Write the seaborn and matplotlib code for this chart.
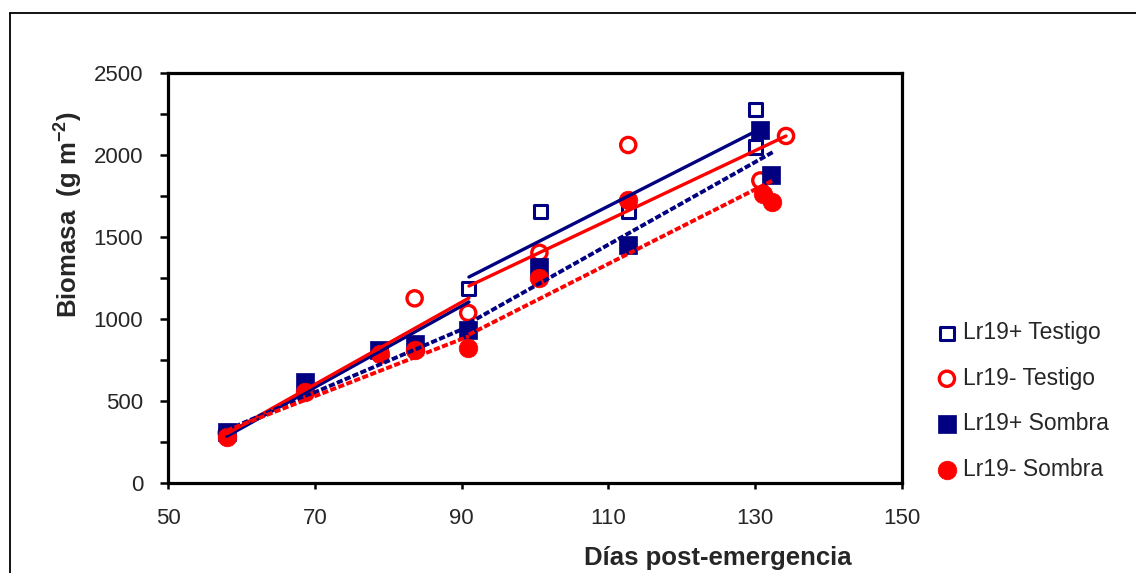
import matplotlib
matplotlib.use("Agg")
import matplotlib.pyplot as plt
import seaborn as sns
import numpy as np
import pandas as pd
from matplotlib.lines import Line2D

# ---------------- data ----------------
labels = ["Lr19+ Testigo", "Lr19- Testigo", "Lr19+ Sombra", "Lr19- Sombra"]

tp_x = [90.9, 100.7, 112.7, 130.0, 130.0]
tp_y = [1185, 1655, 1655, 2279, 2049]

tm_x = [58.0, 83.6, 90.9, 100.6, 112.7, 130.7, 134.2]
tm_y = [305, 1126, 1037, 1404, 2061, 1845, 2116]

sp_x = [58.0, 68.7, 78.8, 83.6, 90.9, 100.6, 112.7, 130.7, 132.2]
sp_y = [313, 615, 811, 845, 933, 1319, 1451, 2155, 1878]

sm_x = [58.0, 68.7, 78.9, 83.7, 90.9, 100.6, 112.7, 131.0, 132.3]
sm_y = [282, 555, 784, 809, 826, 1248, 1724, 1765, 1715]

# fitted trend-line end points (early phase / late phase)
tp_fit_early_x = [58, 91];    tp_fit_early_y = [285, 1104]
tp_fit_late_x = [91, 130.3];  tp_fit_late_y = [1256, 2150]
tm_fit_early_x = [58, 91];    tm_fit_early_y = [300, 1128]
tm_fit_late_x = [91, 134.2];  tm_fit_late_y = [1201, 2116]
sp_fit_early_x = [58, 91];    sp_fit_early_y = [323, 955]
sp_fit_late_x = [91, 132.5];  sp_fit_late_y = [975, 2020]
sm_fit_early_x = [58, 91];    sm_fit_early_y = [320, 895]
sm_fit_late_x = [91, 132.4];  sm_fit_late_y = [905, 1845]

x_ticks = [50, 70, 90, 110, 130, 150]
y_ticks = [0, 500, 1000, 1500, 2000, 2500]

# ---------------- style ----------------
sns.set_theme(style="white")
plt.rcParams["font.family"] = ["Liberation Sans", "DejaVu Sans"]
plt.rcParams["mathtext.fontset"] = "custom"
plt.rcParams["mathtext.bf"] = "Liberation Sans:bold"
plt.rcParams["mathtext.rm"] = "Liberation Sans:bold"
plt.rcParams["mathtext.default"] = "bf"

NAVY = "#000080"
RED = "#FF0000"

W, H = 1136, 573
fig = plt.figure(figsize=(W / 100, H / 100), dpi=100)
ax = fig.add_axes([168 / W, 1 - 483 / H, (902 - 168) / W, (483 - 73) / H])

# ---------------- points ----------------
sns.scatterplot(x=tp_x, y=tp_y, ax=ax, marker="s", s=90, color=NAVY,
                facecolor="none", edgecolor=NAVY, linewidth=2.2,
                label=labels[0], zorder=3)
sns.scatterplot(x=tm_x, y=tm_y, ax=ax, marker="o", s=120, color=RED,
                facecolor="none", edgecolor=RED, linewidth=2.4,
                label=labels[1], zorder=3)
sns.scatterplot(x=sp_x, y=sp_y, ax=ax, marker="s", s=160, color=NAVY,
                edgecolor=NAVY, linewidth=0.5, label=labels[2], zorder=3)
sns.scatterplot(x=sm_x, y=sm_y, ax=ax, marker="o", s=180, color=RED,
                edgecolor=RED, linewidth=0.5, label=labels[3], zorder=3)

# ---------------- trend lines ----------------
dash = (0, (1.6, 0.6))
fits = [
    (tp_fit_early_x, tp_fit_early_y, NAVY, "-", 2.4),
    (tp_fit_late_x, tp_fit_late_y, NAVY, "-", 2.4),
    (tm_fit_early_x, tm_fit_early_y, RED, "-", 2.4),
    (tm_fit_late_x, tm_fit_late_y, RED, "-", 2.4),
    (sp_fit_early_x, sp_fit_early_y, NAVY, dash, 2.8),
    (sp_fit_late_x, sp_fit_late_y, NAVY, dash, 2.8),
    (sm_fit_early_x, sm_fit_early_y, RED, dash, 2.8),
    (sm_fit_late_x, sm_fit_late_y, RED, dash, 2.8),
]
for fx, fy, c, ls, lw in fits:
    sns.lineplot(x=fx, y=fy, ax=ax, color=c, linewidth=lw, linestyle=ls,
                 zorder=4, legend=False)

# ---------------- axes ----------------
ax.set_xlim(50, 150)
ax.set_ylim(0, 2500)
ax.set_xticks(x_ticks)
ax.set_xticklabels([str(v) for v in x_ticks])
ax.set_yticks(y_ticks)
ax.set_yticklabels([str(v) for v in y_ticks])
ax.set_yticks(np.arange(250, 2500, 500), minor=True)
for sp in ax.spines.values():
    sp.set_visible(True)
    sp.set_color("black")
    sp.set_linewidth(2.3)
ax.tick_params(axis="y", which="both", direction="out", length=6, width=1.8,
               color="black", left=True, right=False, labelsize=16, pad=12)
ax.tick_params(axis="x", which="both", direction="out", length=4, width=1.8,
               color="black", bottom=True, top=False, labelsize=16, pad=14)
ax.grid(False)

ax.set_xlabel("Días post-emergencia", fontsize=18.5, fontweight="bold")
ax.set_ylabel("Biomasa  (g m$^{-2}$)", fontsize=18.5, fontweight="bold")
ax.xaxis.set_label_coords((718 - 168) / 734, (483 - 546) / 410)
ax.yaxis.set_label_coords((85 - 168) / 734, (483 - 215) / 410)

# ---------------- legend ----------------
handles, lbls = ax.get_legend_handles_labels()
if ax.legend_:
    ax.legend_.remove()
fig.legend(handles[:4], lbls[:4], loc="center left",
           bbox_to_anchor=(924 / W, 1 - 401 / H), frameon=False,
           fontsize=16.5, handlelength=1.0, handletextpad=0.2,
           labelspacing=0.98, borderpad=0, scatterpoints=1)

# ---------------- outer frame ----------------
fig.add_artist(Line2D([10 / W, 10 / W], [0, 1 - 13 / H], transform=fig.transFigure,
                      color="black", linewidth=1.3))
fig.add_artist(Line2D([10 / W, 1], [1 - 13 / H, 1 - 13 / H], transform=fig.transFigure,
                      color="black", linewidth=1.3))

fig.savefig("out.png", dpi=100, facecolor="white")
